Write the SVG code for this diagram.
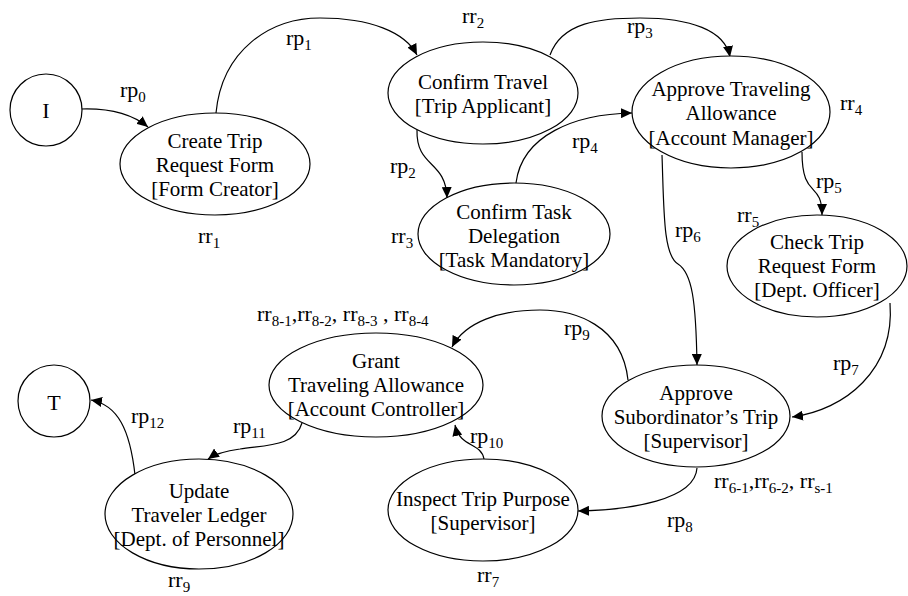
<svg xmlns="http://www.w3.org/2000/svg" width="908" height="596" viewBox="0 0 908 596" font-family="'Liberation Serif', 'Times New Roman', Times, 'DejaVu Serif', serif">
<style>
.n{fill:#fff;stroke:#000;stroke-width:1.2}
.t{font-family:'Liberation Serif', 'Times New Roman', Times, 'DejaVu Serif', serif;font-size:21px;fill:#000;text-anchor:middle}
.l{font-family:'Liberation Serif', 'Times New Roman', Times, 'DejaVu Serif', serif;font-size:22px;fill:#000}
.s{font-size:15px}
.e{fill:none;stroke:#000;stroke-width:1.2;marker-end:url(#ah)}
</style>
<defs>
<marker id="ah" markerUnits="userSpaceOnUse" markerWidth="12" markerHeight="10" refX="11" refY="5" orient="auto">
<path d="M0,0 L11,5 L0,10 z" fill="#000"/>
</marker>
</defs>
<rect width="908" height="596" fill="#fff"/>
<g id="connectors">
<path class="e" d="M81,109 C110,108 132,114 148,127"/>
<path class="e" d="M216,113 C222,50 270,18 320,18 C370,18 405,32 417,55"/>
<path class="e" d="M417,130 C416,168 446,160 447,198"/>
<path class="e" d="M550,55 C562,22 600,18 640,18 C690,18 725,30 730,57"/>
<path class="e" d="M516,183 C522,135 575,114 632,113"/>
<path class="e" d="M802,152 C802,200 822,180 822,215"/>
<path class="e" d="M662,155 C664,210 663,255 678,264 C692,273 696,300 697,365"/>
<path class="e" d="M890,303 C895,370 845,410 792,417"/>
<path class="e" d="M697,468 C695,500 630,510 578,511"/>
<path class="e" d="M628,380 C622,325 575,310 540,310 C500,310 465,322 452,347"/>
<path class="e" d="M484,459 C481,442 460,448 455,425"/>
<path class="e" d="M302,423 C295,447 265,445 240,449 C225,451 215,454 208,459"/>
<path class="e" d="M135,475 C130,430 118,405 91,400"/>
</g>
<g id="I"><circle class="n" cx="46" cy="110" r="36"/><text class="t" x="46" y="118" style="font-size:22px">I</text></g>
<g id="T"><circle class="n" cx="54" cy="401" r="36"/><text class="t" x="54" y="410" style="font-size:22px">T</text></g>
<g id="create"><ellipse class="n" cx="215" cy="164" rx="95" ry="51"/><text class="t" x="215" y="148">Create Trip</text><text class="t" x="215" y="172">Request Form</text><text class="t" x="215" y="196">[Form Creator]</text></g>
<g id="confirmTravel"><ellipse class="n" cx="483" cy="93" rx="95" ry="51"/><text class="t" x="483" y="89">Confirm Travel</text><text class="t" x="483" y="113">[Trip Applicant]</text></g>
<g id="confirmTask"><ellipse class="n" cx="514" cy="234" rx="96" ry="51"/><text class="t" x="514" y="219">Confirm Task</text><text class="t" x="514" y="243">Delegation</text><text class="t" x="514" y="267">[Task Mandatory]</text></g>
<g id="approveTA"><ellipse class="n" cx="731" cy="112" rx="99" ry="56"/><text class="t" x="731" y="96">Approve Traveling</text><text class="t" x="731" y="120">Allowance</text><text class="t" x="731" y="145">[Account Manager]</text></g>
<g id="checkTrip"><ellipse class="n" cx="817" cy="266" rx="90" ry="51"/><text class="t" x="817" y="249">Check Trip</text><text class="t" x="817" y="273">Request Form</text><text class="t" x="817" y="297">[Dept. Officer]</text></g>
<g id="approveSub"><ellipse class="n" cx="696" cy="416" rx="94" ry="51"/><text class="t" x="696" y="400">Approve</text><text class="t" x="696" y="424">Subordinator’s Trip</text><text class="t" x="696" y="448">[Supervisor]</text></g>
<g id="grant"><ellipse class="n" cx="376" cy="385" rx="107" ry="52"/><text class="t" x="376" y="368">Grant</text><text class="t" x="376" y="392">Traveling Allowance</text><text class="t" x="376" y="416">[Account Controller]</text></g>
<g id="inspect"><ellipse class="n" cx="483" cy="510" rx="95" ry="51"/><text class="t" x="483" y="506">Inspect Trip Purpose</text><text class="t" x="483" y="530">[Supervisor]</text></g>
<g id="update"><ellipse class="n" cx="199" cy="514" rx="94" ry="55"/><text class="t" x="199" y="498">Update</text><text class="t" x="199" y="522">Traveler Ledger</text><text class="t" x="199" y="546">[Dept. of Personnel]</text></g>
<g id="labels">
<text class="l" x="120" y="97">rp<tspan class="s" dy="5">0</tspan></text>
<text class="l" x="286" y="45">rp<tspan class="s" dy="5">1</tspan></text>
<text class="l" x="462" y="23">rr<tspan class="s" dy="5">2</tspan></text>
<text class="l" x="390" y="173">rp<tspan class="s" dy="5">2</tspan></text>
<text class="l" x="391" y="243">rr<tspan class="s" dy="5">3</tspan></text>
<text class="l" x="627" y="33">rp<tspan class="s" dy="5">3</tspan></text>
<text class="l" x="572" y="148">rp<tspan class="s" dy="5">4</tspan></text>
<text class="l" x="840" y="110">rr<tspan class="s" dy="5">4</tspan></text>
<text class="l" x="816" y="188">rp<tspan class="s" dy="5">5</tspan></text>
<text class="l" x="737" y="222">rr<tspan class="s" dy="5">5</tspan></text>
<text class="l" x="675" y="237">rp<tspan class="s" dy="5">6</tspan></text>
<text class="l" x="833" y="370">rp<tspan class="s" dy="5">7</tspan></text>
<text class="l" x="564" y="335">rp<tspan class="s" dy="5">9</tspan></text>
<text class="l" x="257" y="321">rr<tspan class="s" dy="5">8-1</tspan><tspan dy="-5">,rr</tspan><tspan class="s" dy="5">8-2</tspan><tspan dy="-5">, rr</tspan><tspan class="s" dy="5">8-3</tspan><tspan dy="-5"> , rr</tspan><tspan class="s" dy="5">8-4</tspan></text>
<text class="l" x="470" y="443">rp<tspan class="s" dy="5">10</tspan></text>
<text class="l" x="667" y="527">rp<tspan class="s" dy="5">8</tspan></text>
<text class="l" x="714" y="488">rr<tspan class="s" dy="5">6-1</tspan><tspan dy="-5">,rr</tspan><tspan class="s" dy="5">6-2</tspan><tspan dy="-5">, rr</tspan><tspan class="s" dy="5">s-1</tspan></text>
<text class="l" x="477" y="582">rr<tspan class="s" dy="5">7</tspan></text>
<text class="l" x="233" y="433">rp<tspan class="s" dy="5">11</tspan></text>
<text class="l" x="131" y="423">rp<tspan class="s" dy="5">12</tspan></text>
<text class="l" x="168" y="587">rr<tspan class="s" dy="5">9</tspan></text>
<text class="l" x="198" y="243">rr<tspan class="s" dy="5">1</tspan></text>
</g>
</svg>
